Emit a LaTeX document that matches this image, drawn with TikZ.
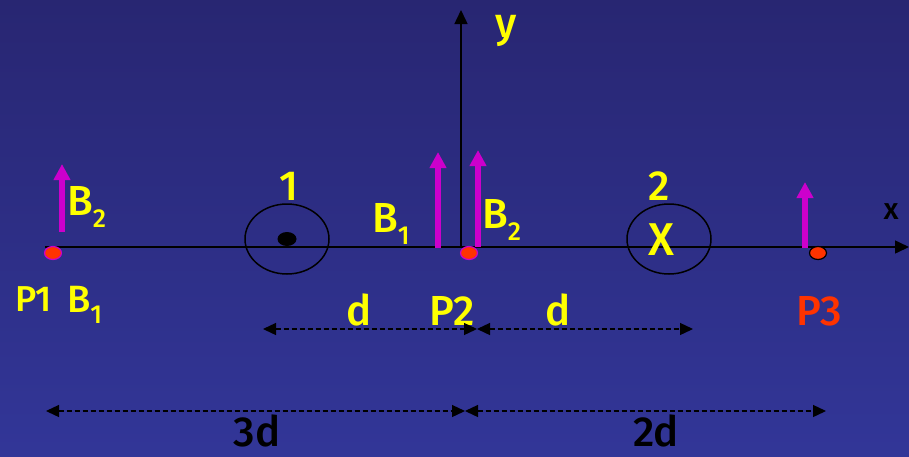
\documentclass[tikz,border=0pt]{standalone}
\usepackage{fontspec}
\setmainfont{Fira Sans}[BoldFont={Fira Sans Medium}]
\usetikzlibrary{arrows.meta,shapes.geometric,positioning}
\definecolor{bgtop}{RGB}{40,38,114}
\definecolor{bgbot}{RGB}{50,54,152}
\definecolor{fieldmag}{RGB}{204,0,204}
\definecolor{ptred}{RGB}{255,51,0}
\definecolor{lblyel}{RGB}{255,255,0}
\newcommand\lowidx[1]{\raisebox{-0.3em}{\fontsize{26}{26}\selectfont #1}}
\begin{document}
\begin{tikzpicture}[x=1pt,y=-1pt,
  lbl/.style={font=\fontsize{42}{42}\selectfont\bfseries,text=lblyel,inner sep=0pt},
  field/.style={fieldmag,line width=6pt,-{Triangle[length=16pt,width=16pt]}},
  pt/.style={ellipse,draw=fieldmag,fill=ptred,line width=1.2pt,minimum width=17pt,minimum height=13pt,inner sep=0pt},
  wire/.style={ellipse,draw,line width=1.5pt,minimum width=84pt,minimum height=70pt,inner sep=0pt},
  axis/.style={line width=1.5pt,-{Triangle[length=14pt,width=13pt]}},
  dim/.style={dash pattern=on 5pt off 3pt,line width=1.3pt,{Triangle[length=13pt,width=12pt]}-{Triangle[length=13pt,width=12pt]}}]
% background and frame
\shade[top color=bgtop,bottom color=bgbot] (0,0) rectangle (909,456);
\useasboundingbox (0,0) rectangle (909,456);
% axes
\coordinate (xs) at (45,247);
\coordinate (xe) at (909,247);
\coordinate (ys) at (461,247);
\coordinate (ye) at (461,10);
\draw[axis] (xs) -- (xe);
\draw[axis] (ys) -- (ye);
\node[lbl,anchor=base] (ylbl) at (506,37) {y};
\node[font=\fontsize{30}{30}\selectfont\bfseries,inner sep=0pt] (xlbl) at (891,212) {x};
% wires 1 and 2
\node[wire] (w1) at (287,239) {};
\node[ellipse,fill=black,minimum width=19pt,minimum height=14pt,inner sep=0pt] (dot1) at (287,239) {};
\node[lbl,anchor=base] (n1) at (289,200) {1};
\node[wire] (w2) at (669,239) {};
\node[lbl,font=\fontsize{46}{46}\selectfont\bfseries] (cross2) at (661,240) {X};
\node[lbl,anchor=base] (n2) at (659,200) {2};
% field points
\foreach \name/\xx in {p1/53,p2/469} {\node[pt] (\name) at (\xx,253) {};}
\node[pt,draw=black] (p3) at (818,253) {};
\node[lbl,anchor=base west,font=\fontsize{36}{36}\selectfont\bfseries] (p1lbl) at (15,311) {P1};
\node[lbl,anchor=base] (p2lbl) at (452,325) {P2};
\node[lbl,anchor=base,text=ptred] (p3lbl) at (819,325) {P3};
% field vectors
\foreach \name/\xx/\yb/\yt in {f1/62/232/164,f2/438/248/152,f3/478/247/150,f4/805/248/182} {
  \coordinate (\name b) at (\xx,\yb); \coordinate (\name t) at (\xx,\yt);
  \draw[field] (\name b) -- (\name t);}
\node[lbl,anchor=base west] (b2a) at (67,215) {B\lowidx{2}};
\node[lbl,anchor=base west,font=\fontsize{38}{38}\selectfont\bfseries] (b1a) at (67,312) {B\lowidx{1}};
\node[lbl,anchor=base west] (b1b) at (372,232) {B\lowidx{1}};
\node[lbl,anchor=base west] (b2b) at (482,228) {B\lowidx{2}};
% distances
\coordinate (d1a) at (263,329); \coordinate (d1m) at (477,329); \coordinate (d1b) at (693,329);
\coordinate (d2a) at (46,411); \coordinate (d2m) at (465,411); \coordinate (d2b) at (826,411);
\draw[dim] (d1a) -- (d1m);
\draw[dim] (d1m) -- (d1b);
\draw[dim] (d2a) -- (d2m);
\draw[dim] (d2m) -- (d2b);
\node[lbl,anchor=base] (dl) at (359,325) {d};
\node[lbl,anchor=base] (dr) at (558,325) {d};
\node[lbl,anchor=base,text=black] (d3) at (257,446) {3d};
\node[lbl,anchor=base,text=black] (d2) at (656,446) {2d};
\end{tikzpicture}
\end{document}
